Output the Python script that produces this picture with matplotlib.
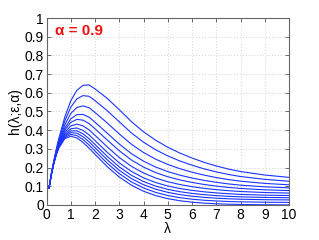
import matplotlib
matplotlib.use("Agg")
import matplotlib.pyplot as plt

lam = [0.1, 0.2, 0.3, 0.4, 0.5, 0.75, 1, 1.25, 1.5, 1.75, 2, 2.5, 3, 3.5, 4, 4.5, 5, 5.5, 6, 6.5, 7, 7.5, 8, 9, 10]

h_eps0 = [0.0905, 0.1637, 0.2222, 0.2681, 0.3033, 0.3543, 0.3679, 0.3581, 0.3347, 0.3041, 0.2707, 0.2052, 0.1494, 0.1057, 0.0733, 0.0500, 0.0337, 0.0225, 0.0149, 0.0098, 0.0064, 0.0041, 0.0027, 0.0011, 0.0005]
h_eps1 = [0.0905, 0.1639, 0.2230, 0.2696, 0.3058, 0.3601, 0.3774, 0.3709, 0.3500, 0.3210, 0.2882, 0.2235, 0.1674, 0.1234, 0.0907, 0.0672, 0.0505, 0.0389, 0.0309, 0.0252, 0.0214, 0.0185, 0.0167, 0.0146, 0.0137]
h_eps2 = [0.0905, 0.1641, 0.2237, 0.2711, 0.3083, 0.3658, 0.3869, 0.3836, 0.3652, 0.3379, 0.3057, 0.2417, 0.1854, 0.1411, 0.1082, 0.0843, 0.0674, 0.0553, 0.0468, 0.0407, 0.0363, 0.0330, 0.0307, 0.0281, 0.0270]
h_eps3 = [0.0905, 0.1643, 0.2245, 0.2726, 0.3108, 0.3716, 0.3964, 0.3964, 0.3805, 0.3548, 0.3232, 0.2600, 0.2034, 0.1586, 0.1252, 0.1009, 0.0834, 0.0709, 0.0617, 0.0550, 0.0500, 0.0462, 0.0434, 0.0402, 0.0387]
h_eps4 = [0.0905, 0.1645, 0.2254, 0.2744, 0.3138, 0.3785, 0.4078, 0.4117, 0.3988, 0.3751, 0.3442, 0.2819, 0.2250, 0.1793, 0.1450, 0.1199, 0.1015, 0.0880, 0.0780, 0.0703, 0.0646, 0.0600, 0.0566, 0.0525, 0.0505]
h_eps5 = [0.0905, 0.1649, 0.2266, 0.2768, 0.3178, 0.3877, 0.4230, 0.4321, 0.4232, 0.4021, 0.3722, 0.3111, 0.2538, 0.2067, 0.1709, 0.1441, 0.1242, 0.1093, 0.0979, 0.0889, 0.0820, 0.0763, 0.0720, 0.0666, 0.0637]
h_eps6 = [0.0905, 0.1653, 0.2281, 0.2798, 0.3228, 0.3992, 0.4420, 0.4576, 0.4537, 0.4359, 0.4072, 0.3476, 0.2898, 0.2405, 0.2023, 0.1731, 0.1510, 0.1339, 0.1204, 0.1096, 0.1009, 0.0938, 0.0883, 0.0811, 0.0769]
h_eps7 = [0.0905, 0.1657, 0.2296, 0.2828, 0.3278, 0.4107, 0.4610, 0.4831, 0.4842, 0.4697, 0.4422, 0.3841, 0.3258, 0.2745, 0.2341, 0.2027, 0.1785, 0.1594, 0.1440, 0.1314, 0.1211, 0.1126, 0.1059, 0.0970, 0.0916]
h_eps8 = [0.0905, 0.1663, 0.2318, 0.2873, 0.3353, 0.4279, 0.4895, 0.5213, 0.5299, 0.5204, 0.4947, 0.4388, 0.3798, 0.3248, 0.2803, 0.2448, 0.2166, 0.1940, 0.1753, 0.1595, 0.1466, 0.1358, 0.1271, 0.1153, 0.1078]
h_eps9 = [0.0905, 0.1670, 0.2345, 0.2927, 0.3443, 0.4486, 0.5237, 0.5672, 0.5848, 0.5813, 0.5577, 0.5045, 0.4446, 0.3852, 0.3356, 0.2951, 0.2623, 0.2353, 0.2126, 0.1931, 0.1769, 0.1633, 0.1522, 0.1370, 0.1269]
h_eps10 = [0.0905, 0.1677, 0.2370, 0.2981, 0.3533, 0.4693, 0.5579, 0.6131, 0.6397, 0.6421, 0.6207, 0.5702, 0.5094, 0.4457, 0.3913, 0.3460, 0.3087, 0.2775, 0.2509, 0.2278, 0.2084, 0.1921, 0.1787, 0.1601, 0.1475]

curves = [h_eps0, h_eps1, h_eps2, h_eps3, h_eps4, h_eps5, h_eps6, h_eps7, h_eps8, h_eps9, h_eps10]

xticks = [0, 1, 2, 3, 4, 5, 6, 7, 8, 9, 10]
xticklabels = ["0", "1", "2", "3", "4", "5", "6", "7", "8", "9", "10"]
yticks = [0, 0.1, 0.2, 0.3, 0.4, 0.5, 0.6, 0.7, 0.8, 0.9, 1]
yticklabels = ["0", "0.1", "0.2", "0.3", "0.4", "0.5", "0.6", "0.7", "0.8", "0.9", "1"]

plt.rcParams['font.family'] = ['Liberation Sans', 'DejaVu Sans']

fig = plt.figure(figsize=(3.19, 2.40), dpi=100)
ax = fig.add_axes([0.146, 0.146, 0.76, 0.779])

for c in curves:
    ax.plot(lam, c, color='#1a33ff', lw=0.8)

ax.set_xlim(0, 10)
ax.set_ylim(0, 1)
ax.set_xticks(xticks)
ax.set_xticklabels(xticklabels)
ax.set_yticks(yticks)
ax.set_yticklabels(yticklabels)
ax.tick_params(direction='in', length=3, width=0.6, color='#555555',
               top=True, right=True, labelsize=10, pad=2, labelcolor='black')
ax.grid(True, color='#c4c4c4', linestyle=(0, (1, 2.5)), linewidth=0.6)
for s in ax.spines.values():
    s.set_color('#666666')
    s.set_linewidth(0.8)

ax.set_xlabel('λ', fontsize=10, labelpad=0)
ax.set_ylabel('h(λ;ε,α)', fontsize=10, labelpad=2)
ax.text(0.33, 0.93, 'α = 0.9', color='#ee1111', fontsize=11, fontweight='bold',
        va='center', ha='left')

fig.savefig('out.png', dpi=100)
